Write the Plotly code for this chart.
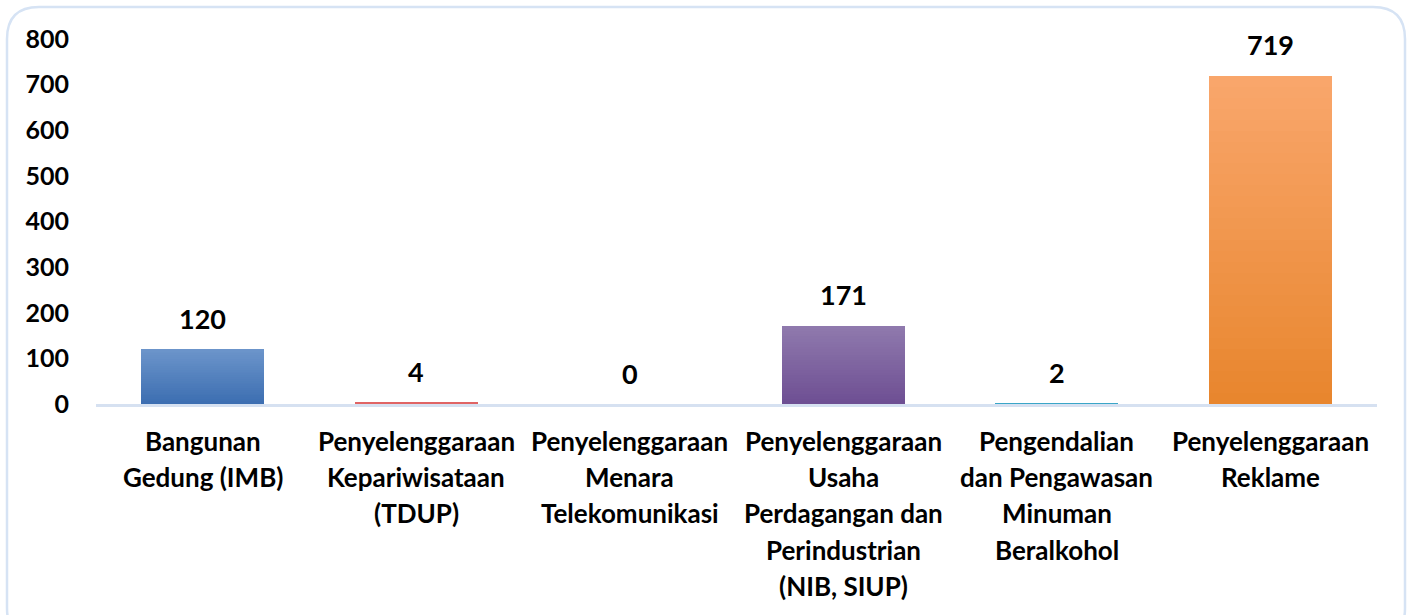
import plotly.graph_objects as go

# ---- data ----
categories = [
    "Bangunan<br>Gedung (IMB)",
    "Penyelenggaraan<br>Kepariwisataan<br>(TDUP)",
    "Penyelenggaraan<br>Menara<br>Telekomunikasi",
    "Penyelenggaraan<br>Usaha<br>Perdagangan dan<br>Perindustrian<br>(NIB, SIUP)",
    "Pengendalian<br>dan Pengawasan<br>Minuman<br>Beralkohol",
    "Penyelenggaraan<br>Reklame",
]
values = [120, 4, 0, 171, 2, 719]
y_ticks = [0, 100, 200, 300, 400, 500, 600, 700, 800]

top_colors = ["#6b94ca", "#e36a6a", "#e36a6a", "#8f79ad", "#4aaccb", "#f9a66b"]
bottom_colors = ["#3c6eb1", "#d85a5a", "#d85a5a", "#6e4f93", "#3fa4c4", "#e8862e"]
solid_colors = ["#5585c0", "#e06464", "#e06464", "#7f63a0", "#3aa6c8", "#f39a50"]

W, H = 1413, 615
ML, MR, MT, MB = 96, 36, 39, 211
PW, PH = W - ML - MR, H - MT - MB
FONT = "Lato"


def hex2rgb(h):
    h = h.lstrip("#")
    return [int(h[i:i + 2], 16) for i in (0, 2, 4)]


def mix(c1, c2, t):
    a, b = hex2rgb(c1), hex2rgb(c2)
    return "rgb(%d,%d,%d)" % tuple(round(a[i] + (b[i] - a[i]) * t) for i in range(3))


SMALL = 20  # bars shorter than this get a single flat segment
fig = go.Figure()
fig.add_trace(go.Bar(
    x=categories,
    y=[v if v < SMALL else 0 for v in values],
    marker=dict(color=solid_colors, line=dict(width=0)),
    hoverinfo="skip", showlegend=False,
))
N = 30
for k in range(N):
    t = k / (N - 1)
    fig.add_trace(go.Bar(
        x=categories,
        y=[v / N if v >= SMALL else 0 for v in values],
        marker=dict(color=[mix(bottom_colors[i], top_colors[i], t) for i in range(len(values))],
                    line=dict(width=0)),
        hoverinfo="skip",
        showlegend=False,
    ))

annotations = []
# value labels
for c, v in zip(categories, values):
    annotations.append(dict(
        x=c, y=v, xref="x", yref="y", text=str(v), showarrow=False,
        yanchor="middle", yshift=31,
        font=dict(family=FONT, size=27, color="#000000", weight=700),
    ))
# category labels, one line at a time
for c in categories:
    for j, line in enumerate(c.split("<br>")):
        annotations.append(dict(
            x=c, y=0, xref="x", yref="paper", text=line, showarrow=False,
            yanchor="middle", yshift=-(37 + 36.2 * j),
            font=dict(family=FONT, size=26, color="#000000", weight=700),
        ))


def px(x):
    return (x - ML) / PW


def py(y):
    return (H - MB - y) / PH


# rounded border
x0, x1, y0, y1, r = 7, 1405, 7, 640, 32
path = (
    f"M {px(x0 + r)} {py(y0)} L {px(x1 - r)} {py(y0)} "
    f"Q {px(x1)} {py(y0)} {px(x1)} {py(y0 + r)} "
    f"L {px(x1)} {py(y1 - r)} Q {px(x1)} {py(y1)} {px(x1 - r)} {py(y1)} "
    f"L {px(x0 + r)} {py(y1)} Q {px(x0)} {py(y1)} {px(x0)} {py(y1 - r)} "
    f"L {px(x0)} {py(y0 + r)} Q {px(x0)} {py(y0)} {px(x0 + r)} {py(y0)} Z"
)

fig.update_layout(
    width=W, height=H,
    margin=dict(l=ML, r=MR, t=MT, b=MB, pad=0),
    paper_bgcolor="white", plot_bgcolor="white",
    barmode="stack", bargap=0.424,
    showlegend=False,
    annotations=annotations,
    shapes=[dict(type="path", path=path, xref="paper", yref="paper",
                 line=dict(color="#d6e3f4", width=2.5), fillcolor="rgba(0,0,0,0)", layer="below")],
    xaxis=dict(showticklabels=False, showgrid=False, zeroline=False, ticks="",
               showline=True, linecolor="#d6e1f1", linewidth=2.5, layer="below traces"),
    yaxis=dict(range=[0, 800], tickvals=y_ticks, showgrid=False, zeroline=False,
               showline=False, ticks="", ticklabelstandoff=26,
               tickfont=dict(family=FONT, size=25, color="#000000", weight=700)),
)

fig.write_html("out.html", config={"displayModeBar": False},
               post_script="document.body.style.margin='0';document.body.style.overflow='hidden';")
